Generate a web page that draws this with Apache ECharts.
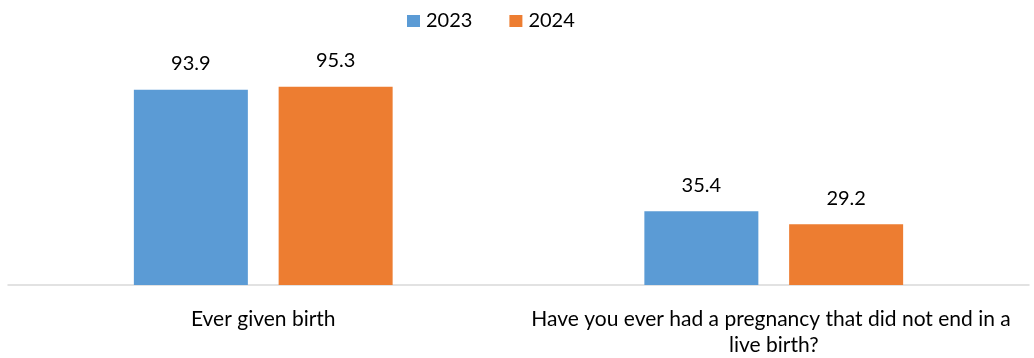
<!DOCTYPE html>
<html>
<head>
<meta charset="utf-8">
<script src="https://cdn.jsdelivr.net/npm/echarts@6/dist/echarts.min.js"></script>
<style>
  html, body { margin: 0; padding: 0; background: #fff; }
  #chart { width: 1034px; height: 358px; }
</style>
</head>
<body>
<div id="chart"></div>
<script>
const categories = ['Ever given birth', 'Have you ever had a pregnancy that did not end in a live birth?'];
const seriesNames = ['2023', '2024'];
const values2023 = [93.9, 35.4];
const values2024 = [95.3, 29.2];
const colors = ['#5b9bd5', '#ed7d31'];

const FONT = 'Lato, "Open Sans", sans-serif';

const valueLabel = {
  show: true,
  position: 'top',
  distance: 16,
  fontSize: 20,
  color: '#000',
  fontFamily: FONT
};

const chart = echarts.init(document.getElementById('chart'));
chart.setOption({
  animation: false,
  textStyle: { fontFamily: FONT },
  legend: {
    top: 6,
    left: 402,
    itemWidth: 13,
    itemHeight: 12,
    itemGap: 37,
    icon: 'rect',
    textStyle: { fontSize: 20, color: '#000', fontFamily: FONT, padding: [0, 0, 0, 1] },
    data: seriesNames
  },
  grid: { left: 8, right: 5, top: 77, bottom: 73 },
  xAxis: {
    type: 'category',
    data: categories,
    axisLine: { lineStyle: { color: '#d9d9d9', width: 1.5 } },
    axisTick: { show: false },
    axisLabel: {
      interval: 0,
      margin: 21,
      width: 500,
      overflow: 'break',
      lineHeight: 26,
      fontSize: 21,
      color: '#000',
      fontFamily: FONT
    }
  },
  yAxis: {
    type: 'value',
    min: 0,
    max: 100,
    show: false,
    splitLine: { show: false }
  },
  series: [
    {
      name: seriesNames[0],
      type: 'bar',
      data: values2023,
      barWidth: 114,
      barGap: '27%',
      itemStyle: { color: colors[0] },
      label: valueLabel
    },
    {
      name: seriesNames[1],
      type: 'bar',
      data: values2024,
      barWidth: 114,
      itemStyle: { color: colors[1] },
      label: valueLabel
    }
  ]
});
</script>
</body>
</html>
